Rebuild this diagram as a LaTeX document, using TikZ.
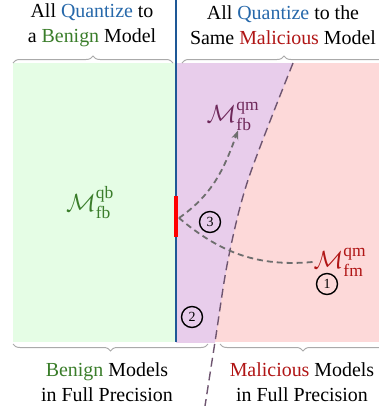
\documentclass[tikz,border=0pt]{standalone}
\usepackage{amsmath,amssymb}
\usepackage{fontspec}
\setmainfont{Liberation Serif}
\usetikzlibrary{arrows.meta,positioning,calc,decorations.pathreplacing}
\definecolor{benigngreen}{RGB}{58,125,42}
\definecolor{malred}{RGB}{176,21,21}
\definecolor{quantblue}{RGB}{38,104,170}
\definecolor{lineblue}{RGB}{30,88,150}
\definecolor{greenbg}{RGB}{229,253,229}
\definecolor{purplebg}{RGB}{232,205,235}
\definecolor{pinkbg}{RGB}{253,217,217}
\definecolor{fbpurple}{RGB}{110,40,90}
\definecolor{bracegray}{RGB}{170,170,170}
\definecolor{flowgray}{RGB}{110,110,110}
\definecolor{edgepurple}{RGB}{110,85,112}

\tikzset{
    caption/.style={font=\fontsize{20}{25}\selectfont, align=center},
    model/.style={font=\fontsize{25}{25}\selectfont, inner sep=1bp},
    stage/.style={circle, draw=black, line width=1.4pt, minimum size=21bp, inner sep=0pt, font=\fontsize{14}{14}\selectfont},
    flow/.style={flowgray, line width=1.8pt, dash pattern=on 6pt off 4pt},
    groupbrace/.style={bracegray, line width=1pt, decorate, decoration={brace, amplitude=7bp}}
}

\begin{document}
\begin{tikzpicture}[x=1bp, y=-1bp]
    \useasboundingbox (0,0) rectangle (379,406);
    % Regions
    \fill[greenbg] (13,63) rectangle (176,342);
    \fill[pinkbg] (176,63) rectangle (379,342);
    \begin{scope}
        \clip (176,63) rectangle (379,342);
        \fill[purplebg] (176,40) -- plot[smooth] coordinates {(300,40) (293,63) (248,180) (228,260) (215,342) (205,406)} -- (176,406) -- cycle;
    \end{scope}
    % Decision boundary
    \draw[edgepurple, line width=1.4pt, dash pattern=on 9pt off 5pt] plot[smooth] coordinates {(293,63) (248,180) (228,260) (215,342) (205,406)};
    % Quantization border
    \draw[lineblue, line width=1.5pt] (176,0) -- (176,342);
    \draw[red, line width=3.5pt] (176,196) -- (176,237);
    \coordinate (bar) at (179,218);
    % Models
    \node[model, text=benigngreen] (Mqb) at (90,203) {$\mathcal{M}_{\mathrm{fb}}^{\mathrm{qb}}$};
    \node[model, text=fbpurple] (Mfbqm) at (233,116) {$\mathcal{M}_{\mathrm{fb}}^{\mathrm{qm}}$};
    \node[model, text=malred] (Mfmqm) at (340,262) {$\mathcal{M}_{\mathrm{fm}}^{\mathrm{qm}}$};
    % Steps
    \node[stage] (s1) at (327,284) {1};
    \node[stage] (s2) at (192,317) {2};
    \node[stage] (s3) at (210,222) {3};
    % Flows
    \draw[flow] (Mfmqm.west) to[out=185, in=-40] (bar);
    \draw[flow, -{Stealth[length=9bp, width=7bp]}] (bar) to[out=35, in=-110] ($(Mfbqm.south)+(5,-1)$);
    % Braces
    \coordinate (tl0) at (13,63);
    \coordinate (tl1) at (173,63);
    \coordinate (tr0) at (182,63);
    \coordinate (tr1) at (386,63);
    \coordinate (bl0) at (13,344);
    \coordinate (bl1) at (208,344);
    \coordinate (br0) at (220,344);
    \coordinate (br1) at (386,344);
    \draw[groupbrace] (tl0) -- (tl1);
    \draw[groupbrace] (tr0) -- (tr1);
    \draw[groupbrace, decoration={mirror}] (bl0) -- (bl1);
    \draw[groupbrace, decoration={mirror}] (br0) -- (br1);
    % Labels
    \node[caption] (capTL) at (92,25) {All \textcolor{quantblue}{Quantize} to\\a \textcolor{benigngreen}{Benign} Model};
    \node[caption] (capTR) at (283,25) {All \textcolor{quantblue}{Quantize} to the\\Same \textcolor{malred}{Malicious} Model};
    \node[caption] (capBL) at (107,382) {\textcolor{benigngreen}{Benign} Models\\in Full Precision};
    \node[caption] (capBR) at (302,382) {\textcolor{malred}{Malicious} Models\\in Full Precision};
\end{tikzpicture}
\end{document}
